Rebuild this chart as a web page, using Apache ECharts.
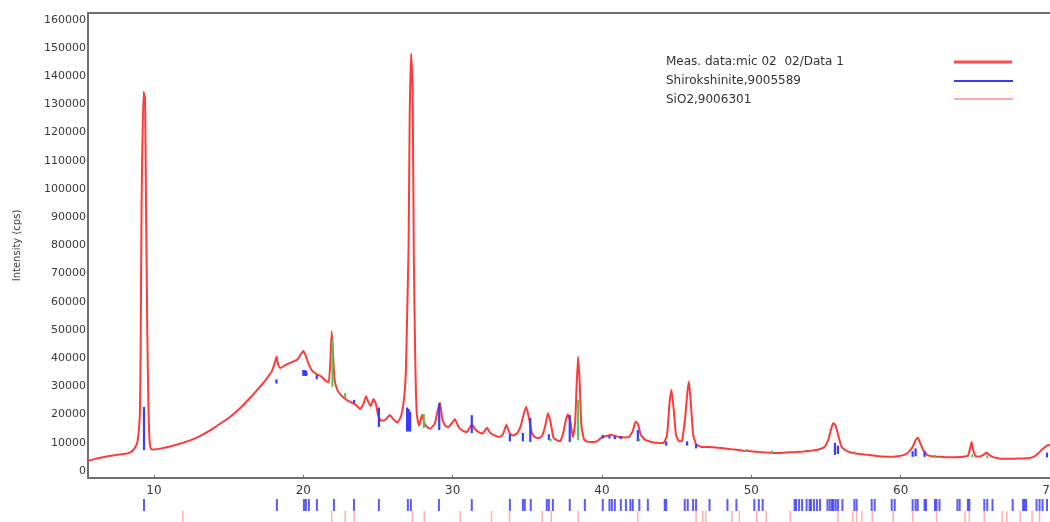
<!DOCTYPE html>
<html>
<head>
<meta charset="utf-8">
<title>XRD pattern</title>
<script src="https://cdn.jsdelivr.net/npm/echarts@6/dist/echarts.min.js"></script>
<style>
  html, body { margin: 0; padding: 0; background: #ffffff; }
  #chart { width: 1050px; height: 522px; }
</style>
</head>
<body>
<div id="chart"></div>
<script>
// Measured diffraction pattern: 2θ (deg) and intensity (cps)
const twoTheta = [
  5.6, 6.0, 6.5, 7.0, 7.5, 8.0, 8.4, 8.7, 8.9, 9.05, 9.1, 9.17, 9.3, 9.4, 9.46, 9.55, 9.62, 9.7, 9.8,
  10.0, 10.5, 11.0, 11.5, 12.0, 12.5, 13.0, 13.5, 14.0, 14.5, 15.0, 15.5, 16.0, 16.5, 17.0, 17.5, 17.9, 18.1, 18.2, 18.3,
  18.45, 18.8, 19.2, 19.6, 19.85, 20.0, 20.15, 20.35, 20.6, 20.9, 21.2, 21.5, 21.7, 21.8, 21.9, 22.0, 22.1, 22.3, 22.6, 22.9,
  23.2, 23.5, 23.8, 24.0, 24.2, 24.35, 24.5, 24.7, 24.85, 25.0, 25.2, 25.5, 25.8, 26.0, 26.3, 26.55, 26.75, 26.87, 26.95, 27.05,
  27.12, 27.22, 27.32, 27.4, 27.5, 27.6, 27.75, 27.95, 28.1, 28.3, 28.5, 28.8, 29.0, 29.15, 29.3, 29.5, 29.7, 29.95, 30.15, 30.4, 30.7,
  30.95, 31.15, 31.3, 31.5, 31.8, 32.0, 32.3, 32.5, 32.8, 33.1, 33.35, 33.6, 33.8, 34.0, 34.3, 34.55, 34.75, 34.92, 35.1, 35.3,
  35.5, 35.8, 36.0, 36.2, 36.38, 36.55, 36.75, 37.0, 37.2, 37.4, 37.6, 37.72, 37.88, 38.05, 38.2, 38.3, 38.4, 38.5, 38.62, 38.8,
  39.0, 39.4, 39.7, 40.0, 40.3, 40.6, 40.9, 41.2, 41.5, 41.8, 42.05, 42.25, 42.4, 42.6, 42.9, 43.3, 43.7, 44.1, 44.35, 44.52,
  44.65, 44.8, 44.95, 45.15, 45.35, 45.55, 45.72, 45.82, 45.95, 46.1, 46.3, 46.6, 47.0, 47.5, 48.0, 48.5, 49.0, 49.5, 50.0, 50.5,
  51.0, 51.5, 52.0, 52.5, 53.0, 53.5, 54.0, 54.5, 54.9, 55.15, 55.35, 55.5, 55.65, 55.85, 56.05, 56.4, 56.8, 57.3, 57.8, 58.3,
  58.8, 59.3, 59.8, 60.2, 60.5, 60.8, 61.0, 61.15, 61.3, 61.5, 61.8, 62.2, 62.7, 63.2, 63.7, 64.2, 64.5, 64.65, 64.75, 64.85,
  65.0, 65.3, 65.55, 65.75, 65.95, 66.2, 66.6, 67.0, 67.5, 68.0, 68.5, 68.9, 69.2, 69.5, 69.8, 70.0
];
const intensity = [
  3600, 4200, 4800, 5300, 5700, 6000, 6500, 8000, 10500, 20000, 40000, 95000, 134500, 132000, 98000, 50000, 25000, 11000, 7800,
  7600, 8000, 8600, 9300, 10100, 11000, 12200, 13600, 15200, 17000, 18800, 21000, 23500, 26300, 29300, 32400, 35500, 38500, 40500, 38000,
  36500, 37500, 38500, 39500, 41500, 42500, 41000, 38000, 35500, 34300, 33500, 32000, 31500, 38000, 49500, 40000, 32000, 28500, 26500, 25200,
  24300, 23500, 22000, 23500, 26500, 24500, 23000, 25500, 24000, 20000, 17800, 18200, 19800, 18500, 17200, 19500, 26000, 36000, 55000, 80000,
  125000, 148000, 135000, 75000, 38000, 20000, 16000, 19900, 17000, 15500, 15000, 16800, 21500, 24200, 18500, 16000, 15500, 17000, 18300, 15500, 14200,
  13800, 15500, 16500, 14800, 13600, 13300, 15300, 13600, 12600, 12100, 12800, 16400, 13500, 12600, 13200, 15800, 20000, 22800, 19000, 13500,
  12000, 11700, 12600, 16000, 20500, 17500, 11800, 10800, 10500, 13500, 18500, 20000, 17500, 12000, 17000, 30000, 40500, 32000, 16000, 11200,
  10400, 10300, 10600, 12000, 12400, 12800, 12300, 12000, 11900, 12000, 14000, 17500, 16800, 12800, 11000, 10300, 10000, 9900, 12500, 24000,
  28800, 22000, 13000, 10500, 10600, 18000, 28000, 31700, 24000, 13000, 9500, 8600, 8500, 8400, 8100, 7800, 7500, 7200, 7000, 6700,
  6500, 6400, 6400, 6600, 6700, 6900, 7200, 7600, 8500, 11000, 15000, 17000, 16000, 12000, 8500, 7000, 6400, 6000, 5700, 5400,
  5100, 5000, 5200, 5600, 6500, 8500, 11000, 11800, 10000, 7500, 5600, 5100, 5000, 4900, 4900, 5000, 5400, 8000, 10300, 7500,
  5300, 5100, 5800, 6500, 5600, 4900, 4400, 4300, 4300, 4400, 4500, 5000, 6200, 7700, 9000, 9200
];

// Axis tick labels
const xTickValues = [10, 20, 30, 40, 50, 60, 70];
const yTickValues = [0, 10000, 20000, 30000, 40000, 50000, 60000, 70000, 80000,
  90000, 100000, 110000, 120000, 130000, 140000, 150000, 160000];

// Pattern names as listed in the key
const phaseNames = ['Meas. data:mic 02  02/Data 1', 'Shirokshinite,9005589', 'SiO2,9006301'];

// Stick positions of the reference cards, shown in rows under the x axis
const shirokshinitePos = [
  9.33, 18.23, 20.04, 20.17, 20.37, 20.91, 22.05, 23.39, 25.06, 27.0, 27.2, 29.08, 31.28, 33.83, 34.7, 34.83, 35.23,
  36.3, 36.44, 36.71, 37.84, 38.85, 40.05, 40.5, 40.66, 40.86, 41.26, 41.6, 41.9, 42.06, 42.5, 43.07, 44.2, 44.3,
  45.54, 45.74, 46.1, 46.3, 47.2, 48.4, 49.0, 50.2, 50.5, 50.76, 52.9, 53.0, 53.2, 53.4, 53.7, 53.9, 54.0, 54.2, 54.4,
  54.6, 55.1, 55.25, 55.4, 55.5, 55.65, 55.8, 56.1, 56.9, 57.05, 58.06, 58.26, 59.4, 59.6, 60.8, 61.0, 61.14, 61.6,
  61.7, 62.3, 62.4, 62.6, 63.8, 63.95, 64.5, 64.6, 65.6, 65.8, 66.15, 67.5, 68.2, 68.3, 68.4, 69.1, 69.3, 69.5, 69.8
];
const sio2Pos = [
  11.94, 21.9, 22.8, 23.4, 27.3, 28.1, 30.5, 32.6, 33.8, 36.0, 36.6, 38.4, 42.4, 46.3, 46.75, 46.95, 48.7, 49.2,
  50.36, 51.0, 52.6, 55.8, 56.8, 57.05, 57.4, 58.1, 59.5, 60.8, 62.4, 64.3, 64.6, 65.6, 66.8, 67.1, 68.0, 68.8, 69.3
];

// Matched reflections drawn inside the plot: [2θ, from, to] in cps
const shirokshiniteMarks = [
  [9.33, 7400, 22700], [18.2, 31000, 32500], [20.0, 33700, 35800], [20.1, 33700, 35800], [20.2, 33700, 35500],
  [20.9, 32500, 34000], [23.4, 24000, 25200], [25.06, 15600, 22500], [26.95, 14000, 22500], [27.05, 14000, 22000],
  [27.15, 14000, 21000], [29.1, 14500, 24000], [31.28, 13400, 19800], [33.83, 10500, 13000], [34.7, 10500, 13500],
  [35.2, 10300, 18800], [36.44, 11000, 13000], [37.84, 10300, 19800], [40.05, 11500, 12800], [40.5, 11500, 12500],
  [40.86, 11300, 12300], [41.26, 11300, 12300], [42.4, 10500, 14500], [44.3, 9000, 10500], [45.7, 9000, 10500],
  [46.3, 8000, 9500], [55.6, 5700, 10000], [55.8, 6000, 9000], [60.8, 5000, 7000], [61.0, 5200, 8000],
  [61.6, 5000, 7000], [69.8, 4800, 6500]
];
const secondaryMarks = [
  [21.95, 29800, 46400], [22.8, 25900, 27700], [28.07, 15200, 20200], [36.55, 10500, 11500], [38.4, 11000, 25200],
  [42.5, 10500, 11500], [49.7, 6800, 7800], [51.4, 6200, 7200], [56.9, 6000, 7000], [62.3, 4700, 5700],
  [64.8, 4800, 5800], [65.8, 4500, 5500]
];

const X_MIN = 5.58, X_MAX = 70.0;
const FONT = 'DejaVu Sans';

const chart = echarts.init(document.getElementById('chart'), null, { renderer: 'canvas' });

function stick(width) {
  return function (params, api) {
    const a = api.coord([api.value(0), api.value(1)]);
    const b = api.coord([api.value(0), api.value(2)]);
    return {
      type: 'line',
      shape: { x1: a[0], y1: a[1], x2: b[0], y2: b[1] },
      style: { stroke: api.visual('color'), lineWidth: width }
    };
  };
}

const hiddenX = (gi) => ({
  type: 'value', gridIndex: gi, min: X_MIN, max: X_MAX, show: false
});
const hiddenY = (gi) => ({
  type: 'value', gridIndex: gi, min: 0, max: 1, show: false
});

const option = {
  animation: false,
  backgroundColor: '#ffffff',
  grid: [
    { left: 88, right: 0, top: 13, bottom: 44, containLabel: false, outerBoundsMode: 'none' },
    { left: 88, right: 0, top: 498, height: 14, outerBoundsMode: 'none' },
    { left: 88, right: 0, top: 512, height: 12, outerBoundsMode: 'none' }
  ],
  xAxis: [
    {
      type: 'value', gridIndex: 0, min: X_MIN, max: X_MAX, position: 'bottom',
      axisLine: { show: true, onZero: false, lineStyle: { color: '#707070', width: 2 } },
      axisTick: { show: true, inside: true, length: 3, customValues: xTickValues, lineStyle: { color: '#707070' } },
      axisLabel: {
        customValues: xTickValues, margin: 7, color: '#3a3a3a',
        fontFamily: FONT, fontSize: 12, alignMaxLabel: 'center', hideOverlap: false,
        formatter: (v) => String(v)
      },
      splitLine: { show: false }
    },
    {
      type: 'value', gridIndex: 0, min: X_MIN, max: X_MAX, position: 'top',
      axisLine: { show: true, onZero: false, lineStyle: { color: '#707070', width: 2 } },
      axisTick: { show: false }, axisLabel: { show: false }, splitLine: { show: false }
    },
    hiddenX(1), hiddenX(2)
  ],
  yAxis: [
    {
      type: 'value', gridIndex: 0, min: -2500, max: 162400,
      name: 'Intensity (cps)', nameLocation: 'middle', nameGap: 66, nameRotate: 90,
      nameTextStyle: { color: '#3a3a3a', fontFamily: FONT, fontSize: 10 },
      axisLine: { show: true, onZero: false, lineStyle: { color: '#707070', width: 2 } },
      axisTick: { show: false },
      axisLabel: {
        customValues: yTickValues, margin: 2, color: '#3a3a3a',
        fontFamily: FONT, fontSize: 11,
        formatter: (v) => String(v)
      },
      splitLine: { show: false }
    },
    hiddenY(1), hiddenY(2)
  ],
  series: [
    {
      name: phaseNames[0],
      type: 'line',
      xAxisIndex: 0, yAxisIndex: 0,
      data: twoTheta.map((t, i) => [t, intensity[i]]),
      showSymbol: false,
      smooth: 0.15,
      lineStyle: { color: '#ff3a3a', width: 2 },
      z: 3
    },
    {
      name: phaseNames[1] + ' (matched)',
      type: 'custom',
      xAxisIndex: 0, yAxisIndex: 0,
      renderItem: stick(2.2),
      itemStyle: { color: '#3b3bff' },
      encode: { x: 0, y: [1, 2] },
      data: shirokshiniteMarks,
      z: 4
    },
    {
      name: 'matched (other)',
      type: 'custom',
      xAxisIndex: 0, yAxisIndex: 0,
      renderItem: stick(2),
      itemStyle: { color: '#4cc84c' },
      encode: { x: 0, y: [1, 2] },
      data: secondaryMarks,
      z: 4
    },
    {
      name: phaseNames[1],
      type: 'scatter',
      xAxisIndex: 2, yAxisIndex: 1,
      symbol: 'rect', symbolSize: [2, 12],
      itemStyle: { color: '#3232ff' },
      data: shirokshinitePos.map(p => [p, 0.5]),
      silent: true
    },
    {
      name: phaseNames[2],
      type: 'scatter',
      xAxisIndex: 3, yAxisIndex: 2,
      symbol: 'rect', symbolSize: [1.5, 12],
      itemStyle: { color: '#ff9c9c' },
      data: sio2Pos.map(p => [p, 0.6]),
      silent: true
    }
  ],
  graphic: [
    { type: 'text', left: 666, top: 56, style: { text: phaseNames[0], fill: '#333', font: '12px "DejaVu Sans"' } },
    { type: 'text', left: 666, top: 75, style: { text: phaseNames[1], fill: '#333', font: '12px "DejaVu Sans"' } },
    { type: 'text', left: 666, top: 94, style: { text: phaseNames[2], fill: '#333', font: '12px "DejaVu Sans"' } },
    { type: 'line', shape: { x1: 954, y1: 62, x2: 1012, y2: 62 }, style: { stroke: '#ff4a4a', lineWidth: 3 } },
    { type: 'line', shape: { x1: 954, y1: 81, x2: 1013, y2: 81 }, style: { stroke: '#3c3cff', lineWidth: 2 } },
    { type: 'line', shape: { x1: 954, y1: 99, x2: 1013, y2: 99 }, style: { stroke: '#ffaaaa', lineWidth: 2 } }
  ]
};

chart.setOption(option);
</script>
</body>
</html>
